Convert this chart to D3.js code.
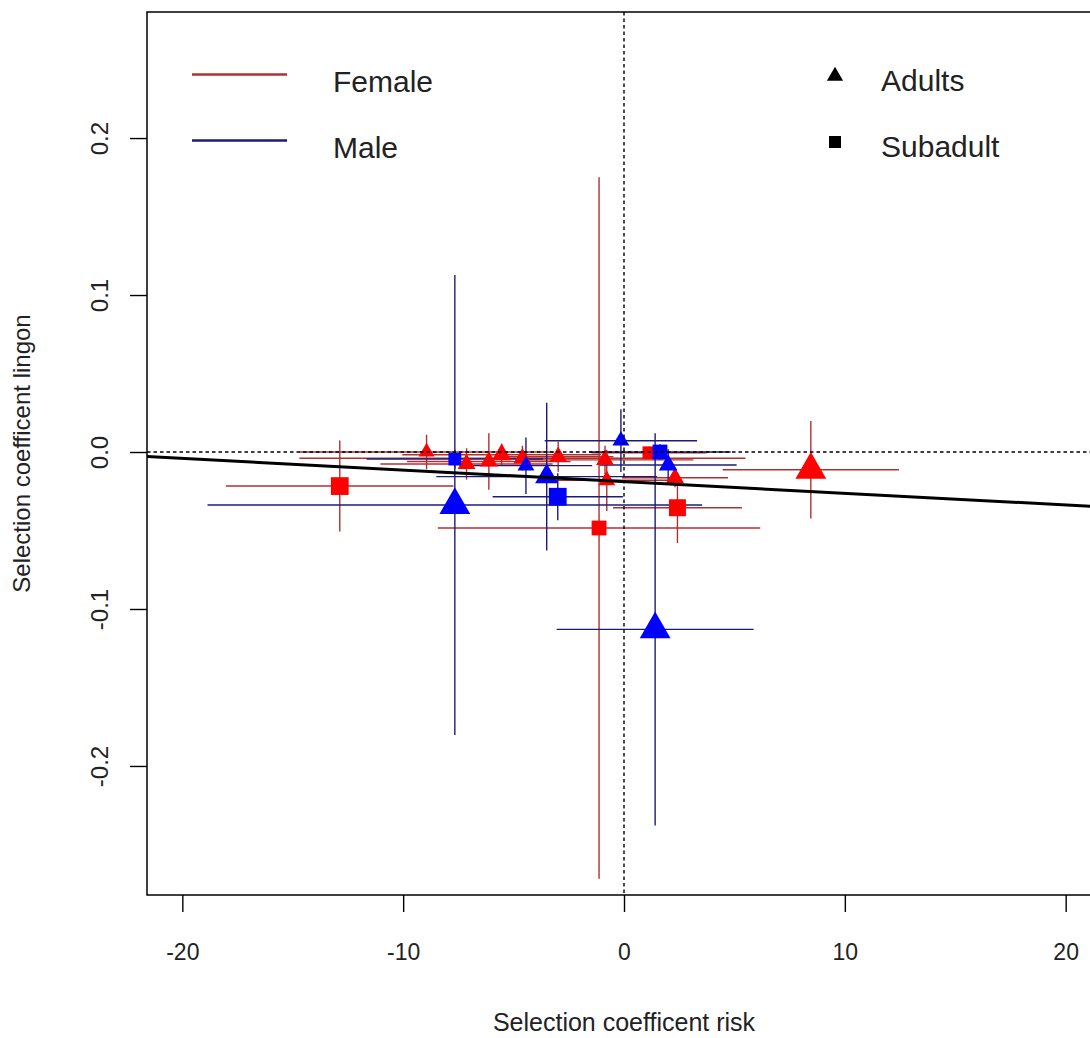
<!DOCTYPE html>
<html>
<head>
<meta charset="utf-8">
<script src="https://cdn.jsdelivr.net/npm/d3@7"></script>
<style>
  html, body { margin: 0; padding: 0; background: #ffffff; }
  svg { display: block; font-family: "Liberation Sans", Arial, sans-serif; }
</style>
</head>
<body>
<svg id="chart" width="1090" height="1038"></svg>
<script>
// ---------------- data ----------------
const sex        = ["F","F","F","F","F","F","F","F","F","F", "F","F","F","F", "M","M","M","M","M","M", "M","M","M"];
const stage      = ["A","A","A","A","A","A","A","A","A","A", "S","S","S","S", "A","A","A","A","A","A", "S","S","S"];
const riskCoef   = [8.46,-8.94,-7.13,-6.12,-5.54,-4.60,-2.98,-0.86,-0.78,2.31, -12.87,-1.13,2.42,1.13, -7.66,1.41,-4.44,-3.50,-0.14,2.00, -7.66,-3.00,1.63];
const lingonCoef = [-0.0113,0.0000,-0.0076,-0.0060,-0.0017,-0.0040,-0.0030,-0.0050,-0.0180,-0.0164, -0.0217,-0.0484,-0.0355,-0.0005, -0.0338,-0.1130,-0.0087,-0.0157,0.0072,-0.0083, -0.0045,-0.0285,0.0000];
const riskSE     = [3.99,5.76,3.90,3.70,4.50,10.10,2.50,4.00,3.00,2.40, 5.15,7.30,2.92,2.60, 11.20,4.46,3.00,5.00,3.45,3.10, 4.00,2.95,3.20];
const lingonSE   = [0.031,0.011,0.010,0.018,0.007,0.008,0.0096,0.009,0.0195,0.006, 0.029,0.2235,0.0225,0.004, 0.1465,0.125,0.018,0.047,0.020,0.010, 0.006,0.015,0.005];
const nObs       = [30,8,10,10,12,10,10,10,9,10, 23,16,21,12, 30,30,9,17,9,11, 12,23,16];

const fitIntercept = -0.0189;
const fitSlope = -0.00074;

const xTicks = [-20, -10, 0, 10, 20];
const yTicks = [-0.2, -0.1, 0.0, 0.1, 0.2];
const sexLabels = ["Female", "Male"];
const stageLabels = ["Adults", "Subadult"];
const xTitle = "Selection coefficent risk";
const yTitle = "Selection coefficent lingon";

// ---------------- setup ----------------
const svg = d3.select("#chart");
const L = 147, R = 1101, T = 12, B = 895;
const xs = d3.scaleLinear().domain([-21.6, 21.6]).range([L, R]);
const ys = d3.scaleLinear().domain([-0.2822, 0.2803]).range([B, T]);
const sizeScale = d3.scaleSqrt().domain([0, 30]).range([0, 30.5]);

const fillCol = { F: "#ff0000", M: "#0000ff" };
const barCol = { F: "#b03030", M: "#1c1c78" };

svg.append("rect").attr("width", 1090).attr("height", 1038).attr("fill", "#fff");

svg.append("defs").append("clipPath").attr("id", "plotClip")
  .append("rect").attr("x", L).attr("y", T).attr("width", R - L).attr("height", B - T);

const pts = riskCoef.map((x, i) => ({
  sex: sex[i], stage: stage[i], x, y: lingonCoef[i],
  sx: riskSE[i], sy: lingonSE[i], n: nObs[i]
}));

const plot = svg.append("g").attr("clip-path", "url(#plotClip)");

// error bars
const bars = plot.append("g");
pts.forEach(p => {
  bars.append("line")
    .attr("x1", xs(p.x - p.sx)).attr("x2", xs(p.x + p.sx))
    .attr("y1", ys(p.y)).attr("y2", ys(p.y))
    .attr("stroke", barCol[p.sex]).attr("stroke-width", 1.4);
  bars.append("line")
    .attr("x1", xs(p.x)).attr("x2", xs(p.x))
    .attr("y1", ys(p.y - p.sy)).attr("y2", ys(p.y + p.sy))
    .attr("stroke", barCol[p.sex]).attr("stroke-width", 1.4);
});

function triPath(u) {
  const r = 0.583 * u, yc = 0.2916 * u, xc = 0.505 * u;
  return `M0,${-r}L${xc},${yc}L${-xc},${yc}Z`;
}
function sqPath(u) {
  const h = 0.3325 * u;
  return `M${-h},${-h}L${h},${-h}L${h},${h}L${-h},${h}Z`;
}

// points: female first, then male
const order = pts.filter(p => p.sex === "F").concat(pts.filter(p => p.sex === "M"));
plot.append("g").selectAll("path").data(order).join("path")
  .attr("transform", p => `translate(${xs(p.x)},${ys(p.y)})`)
  .attr("d", p => p.stage === "A" ? triPath(sizeScale(p.n)) : sqPath(sizeScale(p.n)))
  .attr("fill", p => fillCol[p.sex]);

// reference dotted lines
plot.append("line")
  .attr("x1", L).attr("x2", R).attr("y1", ys(0)).attr("y2", ys(0))
  .attr("stroke", "#000").attr("stroke-width", 1.4).attr("stroke-dasharray", "3.5,3");
plot.append("line")
  .attr("x1", xs(0)).attr("x2", xs(0)).attr("y1", T).attr("y2", B)
  .attr("stroke", "#000").attr("stroke-width", 1.4).attr("stroke-dasharray", "3.5,3");

// regression line
const xd = xs.domain();
plot.append("line")
  .attr("x1", xs(xd[0])).attr("y1", ys(fitIntercept + fitSlope * xd[0]))
  .attr("x2", xs(xd[1])).attr("y2", ys(fitIntercept + fitSlope * xd[1]))
  .attr("stroke", "#000").attr("stroke-width", 3);

// box
svg.append("rect").attr("x", L).attr("y", T).attr("width", R - L).attr("height", B - T)
  .attr("fill", "none").attr("stroke", "#000").attr("stroke-width", 1.5);

// axes
const xAxis = svg.append("g").attr("transform", `translate(0,${B})`)
  .call(d3.axisBottom(xs).tickValues(xTicks).tickSize(17).tickSizeOuter(0).tickPadding(0)
    .tickFormat(d => String(d)));
xAxis.select(".domain").remove();
xAxis.selectAll(".tick line").attr("stroke", "#000").attr("stroke-width", 1.4);
xAxis.selectAll(".tick text")
  .attr("y", 65).attr("dy", null)
  .attr("fill", "#222").attr("font-size", 23)
  .attr("font-family", "Liberation Sans, Arial, sans-serif");

const yAxis = svg.append("g").attr("transform", `translate(${L},0)`)
  .call(d3.axisLeft(ys).tickValues(yTicks).tickSize(17).tickSizeOuter(0)
    .tickFormat(d => d.toFixed(1)));
yAxis.select(".domain").remove();
yAxis.selectAll(".tick line").attr("stroke", "#000").attr("stroke-width", 1.4);
yAxis.selectAll(".tick text")
  .attr("x", 0).attr("y", 0).attr("dy", "0.35em")
  .attr("text-anchor", "middle")
  .attr("transform", "translate(-47,0) rotate(-90)")
  .attr("fill", "#222").attr("font-size", 24)
  .attr("font-family", "Liberation Sans, Arial, sans-serif");

// axis titles
svg.append("text").attr("x", (L + R) / 2).attr("y", 1031)
  .attr("text-anchor", "middle").attr("font-size", 25).attr("fill", "#222")
  .text(xTitle);
svg.append("text")
  .attr("transform", `translate(30,${(T + B) / 2}) rotate(-90)`)
  .attr("text-anchor", "middle").attr("font-size", 24).attr("fill", "#222")
  .text(yTitle);

// legends
const legL = svg.append("g");
sexLabels.forEach((lab, i) => {
  const key = i === 0 ? "F" : "M";
  const yy = 74.5 + i * 66;
  legL.append("line").attr("x1", 192).attr("x2", 287).attr("y1", yy).attr("y2", yy)
    .attr("stroke", barCol[key]).attr("stroke-width", 2.6);
  legL.append("text").attr("x", 333).attr("y", yy + 17)
    .attr("font-size", 30).attr("fill", "#222").text(lab);
});
const legR = svg.append("g");
stageLabels.forEach((lab, i) => {
  const yy = 76 + i * 66;
  legR.append("path")
    .attr("transform", `translate(835,${yy})`)
    .attr("d", i === 0 ? triPath(16) : sqPath(18))
    .attr("fill", "#000");
  legR.append("text").attr("x", 881).attr("y", yy + 15)
    .attr("font-size", 30).attr("fill", "#222").text(lab);
});
</script>
</body>
</html>
